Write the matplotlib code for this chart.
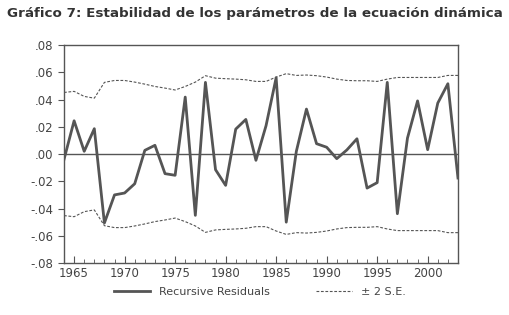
import numpy as np
import matplotlib.pyplot as plt
from matplotlib.ticker import MultipleLocator, FuncFormatter

years = list(range(1964, 2004))
residuals = [-0.004, 0.0244, 0.002, 0.0186, -0.0506, -0.030, -0.0286, -0.0218, 0.0027, 0.0064,
             -0.0144, -0.0156, 0.0418, -0.045, 0.0526, -0.0115, -0.023, 0.0183, 0.0254, -0.0046,
             0.0208, 0.056, -0.050, 0.002, 0.033, 0.0076, 0.005, -0.0034, 0.003, 0.0112,
             -0.025, -0.021, 0.0526, -0.0438, 0.0117, 0.039, 0.0032, 0.0374, 0.0516, -0.0176]
upper = [0.0452, 0.046, 0.0423, 0.041, 0.0526, 0.054, 0.054, 0.0528, 0.0513, 0.0496,
         0.0484, 0.047, 0.0496, 0.0528, 0.0575, 0.0557, 0.0553, 0.055, 0.0545, 0.0533,
         0.0533, 0.0565, 0.059, 0.0577, 0.058, 0.0575, 0.0565, 0.055, 0.054, 0.0538,
         0.0538, 0.0533, 0.055, 0.0562, 0.0562, 0.0562, 0.0562, 0.0562, 0.0577, 0.0577]
lower = [-u for u in upper]

gray = '#555555'
fig = plt.figure(figsize=(5.1, 3.15), dpi=100)
ax = fig.add_axes([0.1255, 0.165, 0.7725, 0.692])

ax.axhline(0, color=gray, lw=1.0)
ax.plot(years, residuals, color=gray, lw=2.0, label='Recursive Residuals')
ax.plot(years, upper, color=gray, lw=0.8, ls=(0, (2.5, 1.5)), label='± 2 S.E.')
ax.plot(years, lower, color=gray, lw=0.8, ls=(0, (2.5, 1.5)))

ax.set_xlim(1964, 2003)
ax.set_ylim(-0.08, 0.08)
ax.yaxis.set_major_locator(MultipleLocator(0.02))
ax.yaxis.set_major_formatter(FuncFormatter(lambda v, p: ('%.2f' % v).replace('0.', '.')))
ax.set_xticks(range(1965, 2004, 5))
ax.xaxis.set_minor_locator(MultipleLocator(1))
ax.tick_params(axis='x', which='major', direction='in', length=5, color=gray, labelsize=8.5, labelcolor='#444444', pad=3)
ax.tick_params(axis='x', which='minor', direction='in', length=3, color=gray)
ax.tick_params(axis='y', direction='out', length=4, color=gray, labelsize=8.5, labelcolor='#444444')
for s in ax.spines.values():
    s.set_color(gray)
    s.set_linewidth(1.0)

fig.legend(loc='lower center', bbox_to_anchor=(0.51, 0.025), ncol=2, frameon=False,
           fontsize=8, handlelength=3.2, handletextpad=0.8, columnspacing=4.2,
           labelcolor='#444444')

fig.text(0.5, 0.958, 'Gráfico 7: Estabilidad de los parámetros de la ecuación dinámica',
         ha='center', va='center', fontsize=9.7, fontweight='bold', color='#333333')

fig.savefig('out.png', dpi=100)
